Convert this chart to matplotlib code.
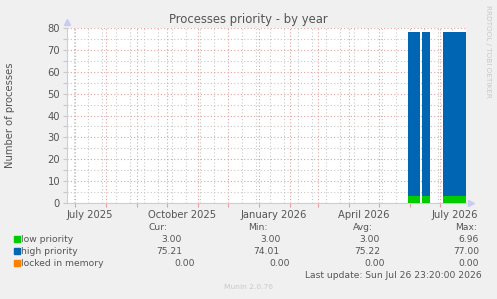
import matplotlib
matplotlib.use("Agg")
import matplotlib.pyplot as plt
import matplotlib.dates as mdates
import matplotlib.transforms as mtransforms
import numpy as np
import pandas as pd

# --- data ---
period_start = pd.to_datetime(['2026-05-30 00:00', '2026-06-13 00:00', '2026-07-04 00:00'])
period_end = pd.to_datetime(['2026-06-11 00:00', '2026-06-21 00:00', '2026-07-26 23:20'])
low_priority = np.array([3.0, 3.0, 3.0])
high_priority = np.array([75.2, 75.2, 75.2])
locked_in_memory = np.array([0.0, 0.0, 0.0])

series_names = ['low priority', 'high priority', 'locked in memory']
series_colors = ['#00CC00', '#0066B3', '#FF8000']
cur_vals = ['3.00', '75.21', '0.00']
min_vals = ['3.00', '74.01', '0.00']
avg_vals = ['3.00', '75.22', '0.00']
max_vals = ['6.96', '77.00', '0.00']

month_labels = ['July 2025', 'October 2025', 'January 2026', 'April 2026', 'July 2026']
month_label_dates = pd.to_datetime(['2025-07-16', '2025-10-16', '2026-01-16',
                                    '2026-04-16', '2026-07-16'])

x_start = pd.Timestamp('2025-06-22 23:20')
x_end = pd.Timestamp('2026-07-26 23:20')

txt = '#555555'
fs = 6.6
bg = '#F0F0F0'

fig = plt.figure(figsize=(4.97, 2.99), dpi=100, facecolor=bg)
ax = fig.add_axes([67 / 497, 1 - 203 / 299, 399 / 497, 175 / 299])
ax.set_facecolor('white')

# stacked areas as bars
left = mdates.date2num(period_start)
width = mdates.date2num(period_end) - left
ax.bar(left, low_priority, width=width, align='edge', color=series_colors[0],
       linewidth=0, zorder=3)
ax.bar(left, high_priority, width=width, bottom=low_priority, align='edge',
       color=series_colors[1], linewidth=0, zorder=3)
ax.bar(left, locked_in_memory, width=width, bottom=low_priority + high_priority,
       align='edge', color=series_colors[2], linewidth=0, zorder=3)

ax.set_xlim(mdates.date2num(x_start), mdates.date2num(x_end))
ax.set_ylim(0, 80)

# grid
ax.xaxis.set_major_locator(mdates.MonthLocator())
minor_days = pd.date_range('2025-06-30', '2026-07-27', freq='14D')
ax.set_xticks(mdates.date2num(minor_days), minor=True)
ax.set_yticks(np.arange(0, 81, 10))
ax.set_yticks(np.arange(5, 80, 10), minor=True)
ax.grid(which='minor', color='#c8c8c8', linestyle=(0, (1, 2)), linewidth=0.8, zorder=1)
ax.grid(which='major', color='#e6a0a0', linestyle=(0, (1, 2)), linewidth=0.8, zorder=2)
ax.set_xticklabels([])
ax.tick_params(axis='x', which='major', length=3, color='#e6a0a0', width=0.8)
ax.tick_params(axis='x', which='minor', length=0)
ax.tick_params(axis='y', which='both', length=3, color='#c8c8c8', width=0.8,
               labelsize=fs + 0.6, labelcolor=txt, pad=2)

for s in ['top', 'right']:
    ax.spines[s].set_visible(False)
for s in ['left', 'bottom']:
    ax.spines[s].set_color('#c8ccf0')
    ax.spines[s].set_linewidth(0.8)
ax.plot([0], [1.035], marker='^', color='#c8ccf0', markersize=4,
        transform=ax.transAxes, clip_on=False)
ax.plot([1.012], [0], marker='>', color='#c8ccf0', markersize=4,
        transform=ax.transAxes, clip_on=False)

trans = mtransforms.blended_transform_factory(ax.transData, ax.transAxes)
for d, lab in zip(month_label_dates, month_labels):
    ax.text(mdates.date2num(d), -0.04, lab, transform=trans, ha='center', va='top',
            fontsize=fs + 0.6, color=txt)

fig.text(248 / 497, 1 - 20 / 299, 'Processes priority - by year', ha='center',
         va='center', fontsize=8.4, color=txt)
fig.text(10 / 497, 1 - 115 / 299, 'Number of processes', rotation=90, ha='center',
         va='center', fontsize=fs + 0.6, color=txt)
fig.text(488 / 497, 1 - 51 / 299, 'RRDTOOL / TOBI OETIKER', rotation=270,
         ha='center', va='center', fontsize=5.2, color='#c8c8c8')

# legend table
def fy(y):
    return 1 - y / 299

fig.text(158 / 497, fy(227), 'Cur:', ha='center', va='center', fontsize=fs, color=txt)
fig.text(258 / 497, fy(227), 'Min:', ha='center', va='center', fontsize=fs, color=txt)
fig.text(363 / 497, fy(227), 'Avg:', ha='center', va='center', fontsize=fs, color=txt)
fig.text(466 / 497, fy(227), 'Max:', ha='center', va='center', fontsize=fs, color=txt)

row_y = [239, 251, 263]
cur_x = [182, 182, 195]
min_x = [281, 279, 290]
avg_x = [380, 380, 385]
for i in range(3):
    y = fy(row_y[i])
    fig.patches.append(plt.Rectangle((14 / 497, y - 3 / 299), 6 / 497, 6 / 299,
                                     transform=fig.transFigure, color=series_colors[i]))
    fig.text(21 / 497, y, series_names[i], ha='left', va='center', fontsize=fs, color=txt)
    fig.text(cur_x[i] / 497, y, cur_vals[i], ha='right', va='center', fontsize=fs, color=txt)
    fig.text(min_x[i] / 497, y, min_vals[i], ha='right', va='center', fontsize=fs, color=txt)
    fig.text(avg_x[i] / 497, y, avg_vals[i], ha='right', va='center', fontsize=fs, color=txt)
    fig.text(479 / 497, y, max_vals[i], ha='right', va='center', fontsize=fs, color=txt)

fig.text(482 / 497, fy(275), 'Last update: Sun Jul 26 23:20:00 2026', ha='right',
         va='center', fontsize=fs, color=txt)
fig.text(248 / 497, fy(287), 'Munin 2.0.76', ha='center', va='center',
         fontsize=5.4, color='#c8c8c8')

fig.savefig('out.png', dpi=100, facecolor=bg)
